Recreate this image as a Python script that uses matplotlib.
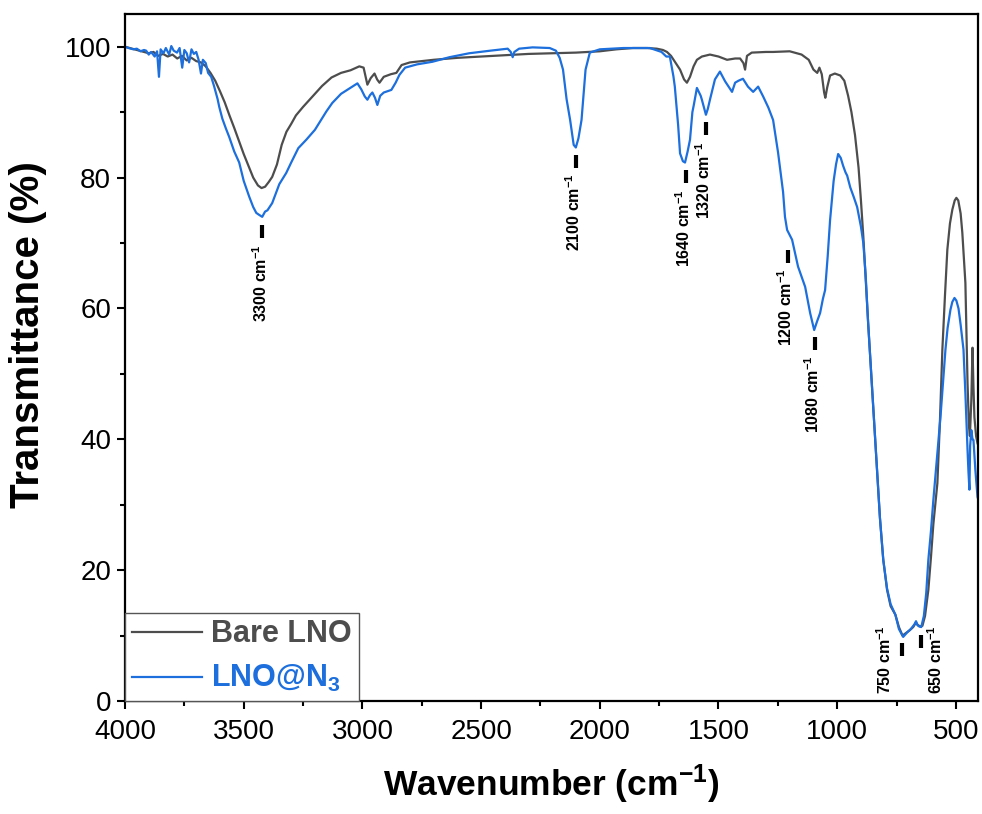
import numpy as np
import matplotlib
matplotlib.use("Agg")
import matplotlib.pyplot as plt
from matplotlib.ticker import MultipleLocator

plt.rcParams['font.family'] = ['Liberation Sans', 'DejaVu Sans']
plt.rcParams['mathtext.default'] = 'regular'

# Bare LNO spectrum (wavenumber cm-1, transmittance %)
bare_wn = [4000, 3960, 3930, 3900, 3880, 3860, 3840, 3820, 3800, 3780, 3760, 3740,
           3720, 3700, 3680, 3660, 3640, 3620, 3600, 3580, 3560, 3540, 3520, 3500,
           3480, 3460, 3440, 3425, 3410, 3395, 3380, 3360, 3340, 3320, 3300, 3280,
           3250, 3210, 3170, 3130, 3090, 3050, 3013, 2995, 2979, 2965, 2949, 2938,
           2928, 2910, 2880, 2857, 2835, 2800, 2700, 2600, 2500, 2400, 2300, 2200,
           2100, 2000, 1930, 1861, 1800, 1760, 1734, 1717, 1700, 1680, 1662, 1645,
           1633, 1620, 1605, 1591, 1570, 1536, 1500, 1464, 1430, 1409, 1395, 1388,
           1380, 1360, 1300, 1270, 1200, 1150, 1120, 1100, 1084, 1075, 1065, 1055,
           1050, 1042, 1030, 1010, 987, 970, 954, 940, 925, 910, 900, 890, 880, 870,
           860, 852, 840, 830, 820, 806, 790, 775, 755, 740, 725, 710, 695, 680,
           668, 660, 650, 641, 630, 616, 605, 595, 578, 567, 557, 546, 536, 525,
           515, 505, 498, 490, 480, 473, 465, 460, 451, 445, 441, 435, 430, 426,
           422, 415, 409, 405]
bare_t = [100.0, 99.6, 99.3, 99.0, 99.2, 98.6, 98.9, 98.5, 98.8, 98.2, 98.6, 97.9,
          98.3, 97.8, 97.6, 97.0, 96.0, 94.8, 93.2, 91.5, 89.5, 87.6, 85.6, 83.6,
          81.8, 80.0, 78.8, 78.4, 78.6, 79.3, 80.1, 82.0, 85.0, 87.0, 88.2, 89.5,
          90.8, 92.4, 94.0, 95.3, 96.0, 96.4, 97.0, 96.8, 94.2, 95.2, 95.9, 95.0,
          94.5, 95.4, 95.8, 96.0, 97.2, 97.6, 98.0, 98.3, 98.5, 98.7, 98.9, 99.0,
          99.1, 99.3, 99.6, 99.8, 99.8, 99.7, 99.5, 99.2, 98.6, 97.5, 96.5, 95.0,
          94.5, 95.4, 97.0, 98.0, 98.5, 98.8, 98.5, 98.0, 98.2, 98.2, 97.5, 96.5,
          98.6, 99.1, 99.2, 99.2, 99.3, 98.8, 98.0, 96.5, 96.0, 96.8, 95.8, 93.0,
          92.2, 93.8, 95.6, 95.9, 95.6, 94.8, 92.5, 90.0, 86.5, 81.5, 76.5, 71.0,
          64.5, 58.0, 52.0, 47.0, 40.0, 34.0, 28.0, 21.6, 17.0, 14.5, 13.2, 11.3,
          10.0, 10.4, 10.8, 11.3, 12.0, 11.6, 11.4, 11.5, 13.0, 17.0, 22.0, 27.0,
          33.3, 43.0, 53.7, 62.0, 69.0, 73.0, 75.1, 76.5, 76.9, 76.5, 74.5, 71.6,
          67.0, 63.9, 48.6, 42.0, 40.5, 46.0, 54.0, 48.0, 43.4, 40.5, 39.4, 39.0]

# LNO@N3 spectrum
n3_wn = [4000, 3985, 3965, 3950, 3935, 3920, 3911, 3900, 3890, 3875, 3865, 3857,
         3850, 3838, 3828, 3814, 3805, 3795, 3781, 3770, 3759, 3750, 3740, 3730,
         3720, 3710, 3700, 3690, 3680, 3672, 3660, 3650, 3637, 3625, 3610, 3603,
         3590, 3575, 3561, 3540, 3519, 3500, 3477, 3460, 3447, 3435, 3422, 3410,
         3400, 3380, 3350, 3321, 3300, 3270, 3236, 3200, 3152, 3127, 3090, 3042,
         3021, 3005, 2990, 2979, 2968, 2958, 2947, 2937, 2925, 2910, 2878, 2860,
         2844, 2820, 2770, 2705, 2633, 2550, 2460, 2388, 2375, 2367, 2360, 2340,
         2283, 2211, 2185, 2169, 2155, 2140, 2125, 2110, 2101, 2090, 2077, 2060,
         2042, 2000, 1900, 1789, 1740, 1720, 1705, 1690, 1684, 1670, 1662, 1650,
         1641, 1630, 1620, 1610, 1604, 1591, 1575, 1570, 1553, 1545, 1536, 1515,
         1494, 1472, 1443, 1430, 1416, 1397, 1376, 1354, 1333, 1312, 1290, 1270,
         1249, 1228, 1220, 1211, 1190, 1165, 1135, 1114, 1097, 1085, 1072, 1060,
         1051, 1040, 1030, 1015, 1005, 996, 985, 975, 965, 958, 945, 930, 916,
         900, 890, 880, 870, 860, 852, 840, 830, 820, 806, 790, 775, 755, 740,
         722, 705, 690, 675, 668, 662, 655, 646, 635, 625, 616, 605, 595, 580,
         565, 544, 535, 523, 515, 506, 498, 489, 480, 468, 460, 455, 451, 447,
         443, 440, 435, 430, 426, 422, 418, 413, 409, 405]
n3_t = [100.0, 99.8, 99.6, 99.7, 99.3, 99.5, 99.4, 98.8, 99.2, 98.5, 99.3, 95.4,
        99.6, 99.0, 99.8, 98.8, 100.1, 99.4, 99.1, 99.8, 96.8, 99.5, 99.0, 97.6,
        99.6, 98.9, 99.2, 98.0, 95.9, 98.0, 97.5, 96.0, 95.4, 94.0, 92.0, 90.8,
        89.0, 87.5, 86.2, 84.0, 82.3, 79.5, 77.1, 75.5, 74.6, 74.3, 74.0, 74.8,
        75.0, 76.1, 79.0, 80.7, 82.3, 84.5, 85.8, 87.3, 90.1, 91.4, 92.8, 93.9,
        94.4, 93.5, 92.4, 91.9, 92.6, 93.0, 92.2, 91.1, 92.5, 93.0, 93.4, 94.5,
        95.7, 96.8, 97.3, 97.7, 98.4, 99.0, 99.4, 99.7, 99.2, 98.4, 99.2, 99.7,
        99.9, 99.8, 99.4, 98.3, 96.5, 92.0, 88.8, 85.0, 84.6, 86.0, 88.8, 96.5,
        99.1, 99.6, 99.8, 99.8, 99.2, 98.5, 98.5, 95.5, 93.9, 88.0, 83.7, 82.5,
        82.3, 84.0, 85.8, 90.0, 91.1, 93.7, 92.5, 91.9, 89.6, 90.5, 91.9, 95.0,
        96.2, 94.7, 93.1, 94.5, 94.8, 95.1, 93.9, 93.1, 93.9, 92.4, 90.7, 88.8,
        83.8, 77.8, 74.0, 72.0, 70.5, 66.4, 63.3, 59.3, 56.7, 58.0, 59.3, 61.5,
        62.8, 68.0, 73.5, 79.5, 82.0, 83.6, 83.0, 81.8, 80.8, 80.3, 78.5, 77.0, 75.5,
        72.5, 70.0, 65.0, 58.0, 52.0, 47.0, 40.0, 34.0, 28.0, 21.6, 17.2, 14.8, 13.2, 11.0,
        9.8, 10.5, 11.0, 11.7, 12.2, 11.6, 11.4, 11.3, 13.0, 16.5, 21.6, 26.0, 30.7, 37.0,
        43.4, 53.7, 57.0, 59.8, 61.0, 61.6, 61.2, 60.0, 57.5, 53.7, 47.0, 42.0, 38.4, 35.0,
        32.3, 39.0, 41.4, 40.0, 39.9, 37.5, 35.3, 33.0, 31.2, 30.7]

# peak annotations
peak_labels = ['3300', '2100', '1640', '1320', '1200', '1080', '750', '650']
peak_wn = [3422, 2101, 1637, 1553, 1207, 1093, 726, 646]
peak_bar_top = [72.8, 83.5, 81.2, 88.5, 69.0, 55.7, 8.9, 10.1]
bar_len = 2.0
# text offsets (pixels) from bar bottom
label_dx = [-2, -2, -2, -2, -2, -2, -18, 14]
label_dy = [-6, -6, -6, -6, -6, -6, 31, 23]

gray = '#4d4d4d'
blue = '#1c6fdc'

fig = plt.figure(figsize=(9.82, 8.14), dpi=100)
ax = fig.add_axes([0.1273, 0.1388, 0.8686, 0.8440])

ax.plot(bare_wn, bare_t, color=gray, lw=1.6, label='Bare LNO')
ax.plot(n3_wn, n3_t, color=blue, lw=1.6, label='LNO@N$_3$')

for lab, w, top, dx, dy in zip(peak_labels, peak_wn, peak_bar_top, label_dx, label_dy):
    ax.vlines(w, top - bar_len, top, color='black', lw=3)
    ax.annotate(lab + ' cm$^{-1}$', xy=(w, top - bar_len), xytext=(dx, dy),
                textcoords='offset pixels', rotation=90, ha='center', va='top',
                fontsize=11.5, fontweight='bold')

ax.set_xlim(4000, 407)
ax.set_ylim(0, 105)
ax.xaxis.set_major_locator(MultipleLocator(500))
ax.xaxis.set_minor_locator(MultipleLocator(250))
ax.yaxis.set_minor_locator(MultipleLocator(10))
ax.set_yticks([0, 20, 40, 60, 80, 100])
ax.tick_params(which='major', direction='out', length=6, width=1.5, labelsize=20, pad=4)
ax.tick_params(axis='x', which='major', pad=7)
ax.tick_params(which='minor', direction='out', length=3.5, width=1.5)
for s in ax.spines.values():
    s.set_linewidth(1.6)

ax.set_xlabel('Wavenumber (cm$^{-1}$)', fontsize=25.5, fontweight='bold')
ax.set_ylabel('Transmittance (%)', fontsize=29, fontweight='bold')
ax.xaxis.set_label_coords(0.5, -0.09)
ax.yaxis.set_label_coords(-0.091, 0.533)

leg = ax.legend(loc='lower left', borderaxespad=0, fancybox=False, framealpha=1,
                edgecolor='#555555', prop={'weight': 'bold', 'size': 22},
                handlelength=2.3, handletextpad=0.3, labelspacing=0.45,
                borderpad=0.22)
leg.get_frame().set_linewidth(1.0)
for t, l in zip(leg.get_texts(), leg.get_lines()):
    t.set_color(l.get_color())

fig.savefig('out.png', dpi=100)
